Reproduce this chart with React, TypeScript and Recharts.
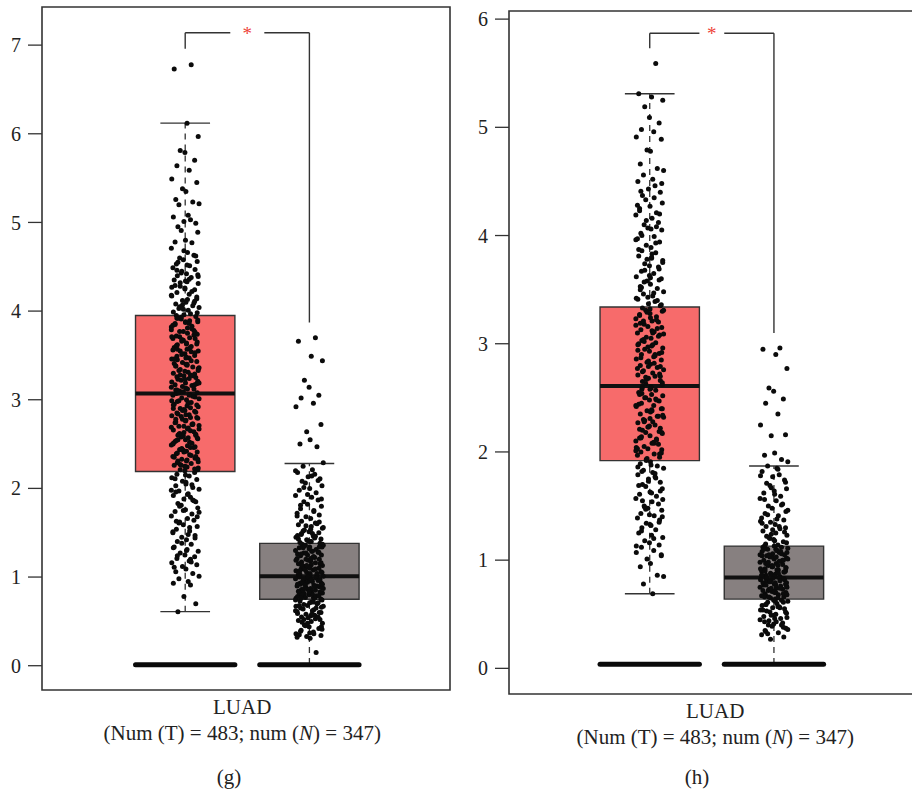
import { ComposedChart, Scatter, XAxis, YAxis, ReferenceArea, ReferenceLine } from 'recharts'

// two groups per panel: tumour (T) at x = 1, normal (N) at x = 2
const GROUP_X = [1, 2]
const FILLS = ['#F76B6B', '#878080']

// panel (g)
const G_TICKS = [0, 1, 2, 3, 4, 5, 6, 7]
// lower whisker, Q1, median, Q3, upper whisker
const G_T_BOX = [0.61, 2.19, 3.07, 3.95, 6.12]
const G_N_BOX = [0.02, 0.75, 1.01, 1.38, 2.28]
// left foot, top, right foot of the significance bracket
const G_BRACKET = [6.96, 7.14, 3.87]
const G_ZERO = 0.012

const G_T_VALUES = [
  6.78, 6.73, 6.12, 5.97, 5.81, 5.79, 5.7, 5.64, 5.59, 5.49, 5.45, 5.38, 5.35, 5.26, 5.23, 5.21,
  5.2, 5.08, 5.06, 5.03, 5.01, 4.99, 4.95, 4.91, 4.89, 4.8, 4.78, 4.77, 4.71, 4.66, 4.63, 4.6,
  4.58, 4.56, 4.53, 4.51, 4.49, 4.47, 4.45, 4.42, 4.4, 4.38, 4.35, 4.33, 4.31, 4.28, 4.26, 4.24,
  4.21, 4.19, 4.17, 4.14, 4.12, 4.1, 4.08, 4.06, 4.04, 4.03, 4.01, 3.99, 3.97, 3.96,
  3.94, 3.92, 3.91, 3.88, 3.88, 3.86, 3.83, 3.82, 3.81, 3.78, 3.77, 3.77, 3.74, 3.72, 3.7, 3.69,
  3.69, 3.66, 3.63, 3.62, 3.6, 3.59, 3.57, 3.55, 3.55, 3.52, 3.5, 3.49, 3.47, 3.46, 3.43, 3.42,
  3.4, 3.38, 3.37, 3.36, 3.33, 3.31, 3.3, 3.28, 3.27, 3.25, 3.23, 3.22, 3.21, 3.19, 3.17, 3.16,
  3.14, 3.12, 3.12, 3.1, 3.09, 3.08, 3.07, 3.06,
  3.05, 3.03, 3.02, 3.0, 2.98, 2.97, 2.95, 2.93, 2.92, 2.9, 2.88, 2.87, 2.85, 2.83, 2.82, 2.8,
  2.78, 2.77, 2.75, 2.73, 2.71, 2.7, 2.68, 2.66, 2.65, 2.63, 2.61, 2.6, 2.58, 2.56, 2.55, 2.53,
  2.51, 2.49, 2.48, 2.46, 2.44, 2.43, 2.41, 2.39, 2.38, 2.36, 2.34, 2.33, 2.31, 2.29, 2.28, 2.26,
  2.24, 2.23, 2.21, 2.2,
  2.18, 2.16, 2.14, 2.12, 2.1, 2.08, 2.05, 2.03, 2.01, 1.99, 1.97, 1.94, 1.92, 1.9, 1.88, 1.85,
  1.83, 1.81, 1.78, 1.76, 1.74, 1.71, 1.69, 1.66, 1.64, 1.62, 1.59, 1.57, 1.54, 1.52, 1.5, 1.47,
  1.45, 1.42, 1.4, 1.37, 1.34, 1.31, 1.29, 1.27, 1.25, 1.23, 1.21, 1.18, 1.16, 1.14, 1.12, 1.09,
  1.06, 1.04, 1.01, 0.98, 0.95, 0.93, 0.91, 0.78, 0.7, 0.61,
  3.93, 3.9, 3.87, 3.85, 3.8, 3.79, 3.75, 3.73, 3.71, 3.67, 3.65, 3.61, 3.58, 3.56, 3.53, 3.51,
  3.48, 3.45, 3.44, 3.41, 3.39, 3.35, 3.34, 3.32, 3.29, 3.26, 3.24, 3.2, 3.18, 3.15, 3.13, 3.11,
  3.04, 3.01, 2.99, 2.96, 2.94, 2.91, 2.89, 2.86, 2.84, 2.81, 2.79, 2.76, 2.74, 2.72, 2.69, 2.67,
  2.64, 2.62, 2.59, 2.57, 2.54, 2.52, 2.5, 2.47, 2.45, 2.42, 2.4, 2.37, 2.35, 2.32, 2.3, 2.27,
  2.25, 2.22, 4.46, 4.36, 4.27, 4.16, 4.07, 2.07, 1.96, 1.87, 1.73, 1.61, 1.48, 1.33, 1.2,
  4.68, 4.62, 4.55, 4.43, 4.41, 4.34, 4.29, 4.22, 4.18, 4.13, 4.09, 4.05, 4.02, 3.98, 3.95, 3.89,
  3.84, 3.76, 3.68, 3.64, 3.57, 3.54, 3.46, 3.4, 3.33, 3.28, 3.23, 3.17, 3.11, 3.05, 2.99, 2.94,
  2.88, 2.83, 2.78, 2.72, 2.67, 2.61, 2.57, 2.51, 2.46, 2.41, 2.36, 2.31, 2.26, 2.21, 2.15, 2.11,
  2.04, 1.98, 1.93, 1.86, 1.8, 1.75, 1.68, 1.63, 1.56, 1.51, 1.44, 1.38, 1.3, 1.24, 1.17, 1.11,
  4.52, 4.39, 4.32, 4.25, 4.11, 3.92, 3.86, 3.71, 3.63, 3.52, 3.47, 3.38, 3.27, 3.19, 3.08, 2.97,
  2.9, 2.8, 2.7, 2.6, 2.55, 2.44, 2.33, 2.24,
]

const G_N_VALUES = [
  3.7, 3.66, 3.49, 3.44, 3.22, 3.14, 3.05, 3.02, 2.96, 2.92, 2.72, 2.64, 2.55, 2.5, 2.47, 2.29,
  2.25, 2.21, 2.18, 2.16, 2.13, 2.11, 2.08, 2.06, 2.03, 2.0, 1.98, 1.95, 1.92, 1.9, 1.87, 1.85,
  1.82, 1.8, 1.77, 1.75, 1.72, 1.7, 1.68, 1.66, 1.63, 1.61, 1.59, 1.57, 1.55, 1.53, 1.51, 1.5,
  1.48, 1.46, 1.45, 1.43, 1.42, 1.4, 1.39, 1.6, 1.56, 1.52, 1.49, 1.47, 1.44, 1.41,
  1.38, 1.37, 1.36, 1.34, 1.34, 1.33, 1.31, 1.3, 1.29, 1.28, 1.27, 1.25, 1.25, 1.24, 1.23, 1.21,
  1.2, 1.2, 1.18, 1.17, 1.16, 1.15, 1.14, 1.13, 1.12, 1.11, 1.1, 1.09, 1.08, 1.07, 1.06, 1.05,
  1.04, 1.03, 1.02, 1.36, 1.33, 1.29, 1.26, 1.22, 1.19, 1.15, 1.12, 1.08, 1.05, 1.02,
  1.0, 0.99, 0.98, 0.97, 0.96, 0.95, 0.94, 0.93, 0.92, 0.91, 0.9, 0.89, 0.88, 0.87, 0.86, 0.85,
  0.84, 0.83, 0.82, 0.81, 0.8, 0.79, 0.78, 0.77, 0.76, 0.75, 0.99, 0.96, 0.93, 0.9, 0.87, 0.84,
  0.81, 0.78, 0.76, 1.0, 0.97, 0.94, 0.91, 0.88, 0.85, 0.82, 0.79,
  0.74, 0.72, 0.71, 0.69, 0.68, 0.66, 0.65, 0.63, 0.61, 0.6, 0.58, 0.56, 0.55, 0.53, 0.51, 0.5,
  0.48, 0.46, 0.44, 0.42, 0.4, 0.38, 0.36, 0.34, 0.33, 0.31, 0.73, 0.7, 0.67, 0.64, 0.62, 0.59,
  0.57, 0.54, 0.52, 0.49, 0.45, 0.41, 0.37, 0.35, 0.15,
  2.2, 2.14, 2.09, 2.01, 1.93, 1.88, 1.81, 1.74, 1.69, 1.62, 1.58, 1.54, 1.49, 1.46, 1.43, 1.4,
  1.37, 1.35, 1.32, 1.28, 1.26, 1.23, 1.19, 1.16, 1.13, 1.1, 1.07, 1.04, 1.01, 0.98, 0.95, 0.92,
  0.89, 0.86, 0.83, 0.8, 0.77, 0.74, 0.71, 0.68, 0.65, 0.62, 0.58, 0.55, 0.52, 0.48, 0.44, 0.39,
  0.36, 0.32, 1.34, 1.27, 1.21, 1.14, 1.09, 1.03, 0.97, 0.92, 0.87, 0.83, 0.79, 0.76, 0.72, 0.67,
  0.6,
]

// panel (h)
const H_TICKS = [0, 1, 2, 3, 4, 5, 6]
const H_T_BOX = [0.69, 1.92, 2.61, 3.34, 5.31]
const H_N_BOX = [0.04, 0.64, 0.84, 1.13, 1.87]
const H_BRACKET = [5.73, 5.87, 3.1]
const H_ZERO = 0.037

const H_T_VALUES = [
  5.59, 5.31, 5.28, 5.25, 5.19, 5.09, 5.04, 4.98, 4.96, 4.91, 4.89, 4.79, 4.78, 4.66, 4.62, 4.6,
  4.56, 4.52, 4.5, 4.46, 4.43, 4.4, 4.37, 4.33, 4.3, 4.27, 4.25, 4.21, 4.19, 4.16, 4.12, 4.1,
  4.07, 4.05, 4.02, 3.99, 3.97, 3.94, 3.91, 3.89, 3.86, 3.84, 3.81, 3.79, 3.77, 3.74, 3.72, 3.69,
  3.67, 3.65, 3.62, 3.6, 3.58, 3.55, 3.53, 3.51, 3.48, 3.46, 3.44, 3.41, 3.39, 3.37, 3.35,
  3.33, 3.31, 3.3, 3.28, 3.26, 3.25, 3.23, 3.21, 3.2, 3.18, 3.16, 3.15, 3.13, 3.11, 3.1, 3.08,
  3.06, 3.05, 3.03, 3.01, 3.0, 2.98, 2.96, 2.95, 2.93, 2.91, 2.9, 2.88, 2.86, 2.85, 2.83, 2.81,
  2.8, 2.78, 2.76, 2.75, 2.73, 2.71, 2.7, 2.68, 2.66, 2.65, 2.63, 2.62, 3.32, 3.27, 3.22, 3.17,
  3.12, 3.07, 3.02, 2.97, 2.92, 2.87, 2.82, 2.77, 2.72, 2.67,
  2.6, 2.58, 2.57, 2.55, 2.53, 2.52, 2.5, 2.48, 2.47, 2.45, 2.43, 2.42, 2.4, 2.38, 2.37, 2.35,
  2.33, 2.32, 2.3, 2.28, 2.27, 2.25, 2.23, 2.22, 2.2, 2.18, 2.17, 2.15, 2.13, 2.12, 2.1, 2.08,
  2.07, 2.05, 2.03, 2.02, 2.0, 1.98, 1.97, 1.95, 1.93, 2.59, 2.54, 2.49, 2.44, 2.39, 2.34, 2.29,
  2.24, 2.19, 2.14, 2.09, 2.04, 1.99, 1.94,
  1.91, 1.89, 1.87, 1.85, 1.83, 1.81, 1.79, 1.77, 1.75, 1.72, 1.7, 1.68, 1.66, 1.63, 1.61, 1.59,
  1.57, 1.54, 1.52, 1.5, 1.48, 1.46, 1.43, 1.41, 1.39, 1.37, 1.34, 1.32, 1.3, 1.28, 1.25, 1.23,
  1.21, 1.18, 1.16, 1.14, 1.12, 1.09, 1.07, 1.04, 1.01, 0.97, 0.94, 0.86, 0.85, 0.78, 0.69,
  1.86, 1.8, 1.73, 1.64, 1.55, 1.47, 1.4, 1.33, 4.23, 4.08, 3.96, 3.83, 3.71, 3.57, 3.43,
  4.48, 4.41, 4.35, 4.28, 4.2, 4.14, 4.06, 4.0, 3.93, 3.87, 3.8, 3.75, 3.68, 3.63, 3.59, 3.52,
  3.47, 3.42, 3.36, 3.29, 3.24, 3.19, 3.14, 3.09, 3.04, 2.99, 2.94, 2.89, 2.84, 2.79, 2.74, 2.69,
  2.64, 2.58, 2.53, 2.48, 2.43, 2.38, 2.33, 2.28, 2.23, 2.18, 2.13, 2.08, 2.03, 1.98, 1.92, 1.88,
  1.82, 1.76, 1.69, 1.62, 1.56, 1.49, 1.42, 1.35, 1.27, 1.2, 1.13, 1.05, 3.78, 3.61, 3.5, 3.4,
  3.31, 3.21, 3.1, 2.99, 2.9, 2.79, 2.7, 2.6, 2.5, 2.4, 2.31, 2.21, 2.11, 2.01,
]

const H_N_VALUES = [
  2.96, 2.95, 2.9, 2.77, 2.59, 2.56, 2.49, 2.45, 2.35, 2.25, 2.16, 2.15, 1.99, 1.97, 1.93, 1.91,
  1.87, 1.85, 1.82, 1.79, 1.77, 1.74, 1.71, 1.69, 1.66, 1.64, 1.62, 1.59, 1.57, 1.55, 1.52, 1.5,
  1.48, 1.45, 1.43, 1.41, 1.39, 1.37, 1.35, 1.33, 1.31, 1.29, 1.27, 1.25, 1.23, 1.21, 1.19, 1.17,
  1.15, 1.14, 1.36, 1.3, 1.24, 1.18,
  1.13, 1.12, 1.11, 1.1, 1.09, 1.08, 1.07, 1.06, 1.05, 1.04, 1.03, 1.02, 1.01, 1.0, 0.99, 0.98,
  0.97, 0.96, 0.95, 0.94, 0.93, 0.92, 0.91, 0.9, 0.89, 0.88, 0.87, 0.86, 0.85, 1.12, 1.1, 1.07,
  1.05, 1.02, 1.0, 0.97, 0.95, 0.92, 0.9, 0.87, 0.85, 1.11, 1.06, 1.01, 0.96, 0.91, 0.86,
  0.84, 0.83, 0.82, 0.81, 0.8, 0.79, 0.78, 0.77, 0.76, 0.75, 0.74, 0.73, 0.72, 0.71, 0.7, 0.69,
  0.68, 0.67, 0.66, 0.65, 0.64, 0.83, 0.81, 0.79, 0.77, 0.75, 0.73, 0.71, 0.69, 0.67, 0.65, 0.82,
  0.78, 0.74, 0.7, 0.66,
  0.63, 0.62, 0.61, 0.6, 0.58, 0.57, 0.56, 0.55, 0.53, 0.52, 0.51, 0.49, 0.48, 0.46, 0.45, 0.43,
  0.42, 0.4, 0.39, 0.37, 0.35, 0.33, 0.31, 0.29, 0.27, 0.62, 0.59, 0.56, 0.54, 0.5, 0.47, 0.44,
  0.41, 0.38, 0.34,
  1.84, 1.78, 1.72, 1.67, 1.61, 1.56, 1.51, 1.46, 1.42, 1.38, 1.34, 1.31, 1.28, 1.26, 1.22, 1.2,
  1.16, 1.13, 1.1, 1.08, 1.05, 1.03, 1.0, 0.98, 0.95, 0.93, 0.9, 0.88, 0.86, 0.83, 0.81, 0.79,
  0.77, 0.74, 0.72, 0.7, 0.68, 0.66, 0.63, 0.61, 0.59, 0.57, 0.54, 0.52, 0.49, 0.46, 0.43, 0.4,
  0.36, 0.32, 1.09, 1.04, 0.99, 0.94, 0.89, 0.84, 0.8, 0.76, 0.71, 0.67,
]

// horizontal jitter offsets, as a fraction of the jitter half-width
const JITTER = [
  0.42, -0.77, 0.13, 0.91, -0.35, -0.02, 0.66, -0.58, 0.28, -0.94, 0.81, -0.19, 0.05, -0.66,
  0.53, 0.97, -0.44, 0.21, -0.83, 0.37, -0.09, 0.74, -0.51, -0.28, 0.88, 0.02, -0.71, 0.47,
  -0.97, 0.16, 0.61, -0.39, -0.13, 0.84, -0.62, 0.31, -0.86, 0.69, -0.24, 0.09, -0.55,
]

const FONT = '"Liberation Serif", "Times New Roman", serif'
const LINE = '#333'
const BOX_HALF = 0.4
const CAP_HALF = 0.2
const JITTER_HALF = 0.115

const Dot = (props: any) => <circle cx={props.cx} cy={props.cy} r={2.5} fill="#0b0b0b" />

const Star = (props: any) => (
  <text x={props.cx} y={props.cy + 7} textAnchor="middle" fontFamily={FONT} fontSize={19} fill="#EE4238">
    *
  </text>
)

const AxisLabel = (props: any) => (
  <g fontFamily={FONT} fontSize={21} fill="#222">
    <text x={props.x} y={props.y + 24} textAnchor="middle">LUAD</text>
    <text x={props.x} y={props.y + 50} textAnchor="middle">
      (Num (T) = 483; num (<tspan fontStyle="italic">N</tspan>) = 347)
    </text>
  </g>
)

const seg = (x1: number, y1: number, x2: number, y2: number) => [
  { x: x1, y: y1 },
  { x: x2, y: y2 },
]

const Panel = ({ width, height, margin, yAxisWidth, xAxisHeight, xDomain, yDomain, ticks, boxes, values, bracket, zero, gap, labelX }: any) => {
  const points = values.flatMap((vals: number[], g: number) =>
    vals.map((v, i) => ({ x: GROUP_X[g] + JITTER[i % JITTER.length] * JITTER_HALF, y: v })),
  )
  const mid = (GROUP_X[0] + GROUP_X[1]) / 2
  const [footL, top, footR] = bracket

  return (
    <ComposedChart width={width} height={height} margin={margin}>
      <XAxis
        type="number"
        dataKey="x"
        domain={xDomain}
        allowDataOverflow
        ticks={[labelX]}
        tick={<AxisLabel />}
        tickLine={false}
        axisLine={false}
        tickSize={0}
        tickMargin={0}
        height={xAxisHeight}
      />
      <YAxis
        type="number"
        dataKey="y"
        domain={yDomain}
        allowDataOverflow
        ticks={ticks}
        width={yAxisWidth}
        tickSize={14}
        tickMargin={7}
        axisLine={false}
        tickLine={{ stroke: LINE, strokeWidth: 1.3 }}
        tick={{ fontFamily: FONT, fontSize: 20, fill: '#222' }}
      />
      <ReferenceArea
        x1={xDomain[0]}
        x2={xDomain[1]}
        y1={yDomain[0]}
        y2={yDomain[1]}
        fill="none"
        stroke={LINE}
        strokeWidth={1.6}
        ifOverflow="visible"
      />
      {boxes.map((b: number[], g: number) => {
        const c = GROUP_X[g]
        const [lo, q1, med, q3, hi] = b
        return [
          <ReferenceLine key={`wu${g}`} segment={seg(c, q3, c, hi)} stroke={LINE} strokeWidth={1.3} strokeDasharray="6 5" />,
          <ReferenceLine key={`wl${g}`} segment={seg(c, lo, c, q1)} stroke={LINE} strokeWidth={1.3} strokeDasharray="6 5" />,
          <ReferenceLine key={`cu${g}`} segment={seg(c - CAP_HALF, hi, c + CAP_HALF, hi)} stroke={LINE} strokeWidth={1.4} />,
          <ReferenceLine key={`cl${g}`} segment={seg(c - CAP_HALF, lo, c + CAP_HALF, lo)} stroke={LINE} strokeWidth={1.4} />,
          <ReferenceArea
            key={`b${g}`}
            x1={c - BOX_HALF}
            x2={c + BOX_HALF}
            y1={q1}
            y2={q3}
            fill={FILLS[g]}
            fillOpacity={1}
            stroke={LINE}
            strokeWidth={1.4}
          />,
          <ReferenceLine key={`z${g}`} segment={seg(c - BOX_HALF, zero, c + BOX_HALF, zero)} stroke="#0a0a0a" strokeWidth={5} strokeLinecap="round" />,
        ]
      })}
      <ReferenceLine segment={seg(GROUP_X[0], footL, GROUP_X[0], top)} stroke={LINE} strokeWidth={1.4} />
      <ReferenceLine segment={seg(GROUP_X[0], top, mid - gap, top)} stroke={LINE} strokeWidth={1.4} />
      <ReferenceLine segment={seg(mid + gap, top, GROUP_X[1], top)} stroke={LINE} strokeWidth={1.4} />
      <ReferenceLine segment={seg(GROUP_X[1], top, GROUP_X[1], footR)} stroke={LINE} strokeWidth={1.4} />
      <Scatter data={points} shape={<Dot />} isAnimationActive={false} />
      {boxes.map((b: number[], g: number) => (
        <ReferenceLine
          key={`m${g}`}
          segment={seg(GROUP_X[g] - BOX_HALF, b[2], GROUP_X[g] + BOX_HALF, b[2])}
          stroke="#111"
          strokeWidth={4}
        />
      ))}
      <Scatter data={[{ x: mid, y: top }]} shape={<Star />} isAnimationActive={false} />
    </ComposedChart>
  )
}

const letterStyle = (cx: number): any => ({
  position: 'absolute',
  left: cx - 40,
  width: 80,
  top: 765,
  textAlign: 'center',
  fontFamily: FONT,
  fontSize: 21,
  color: '#222',
})

const App = () => (
  <div style={{ position: 'absolute', left: 0, top: 0, width: 912, height: 795, overflow: 'hidden', background: '#fff' }}>
    <div style={{ position: 'absolute', left: 0, top: 0 }}>
      <Panel
        width={456}
        height={795}
        margin={{ top: 7, right: 6, bottom: 0, left: 0 }}
        yAxisWidth={42}
        xAxisHeight={105}
        xDomain={[-0.153, 3.132]}
        yDomain={[-0.274, 7.43]}
        ticks={G_TICKS}
        boxes={[G_T_BOX, G_N_BOX]}
        values={[G_T_VALUES, G_N_VALUES]}
        bracket={G_BRACKET}
        zero={G_ZERO}
        gap={0.137}
        labelX={1.459}
      />
    </div>
    <div style={{ position: 'absolute', left: 456, top: 0 }}>
      <Panel
        width={470}
        height={795}
        margin={{ top: 11, right: 5, bottom: 0, left: 0 }}
        yAxisWidth={53}
        xAxisHeight={101}
        xDomain={[-0.133, 3.184]}
        yDomain={[-0.237, 6.075]}
        ticks={H_TICKS}
        boxes={[H_T_BOX, H_N_BOX]}
        values={[H_T_VALUES, H_N_VALUES]}
        bracket={H_BRACKET}
        zero={H_ZERO}
        gap={0.1}
        labelX={1.527}
      />
    </div>
    <div style={letterStyle(229)}>(g)</div>
    <div style={letterStyle(697)}>(h)</div>
  </div>
)

export default App
